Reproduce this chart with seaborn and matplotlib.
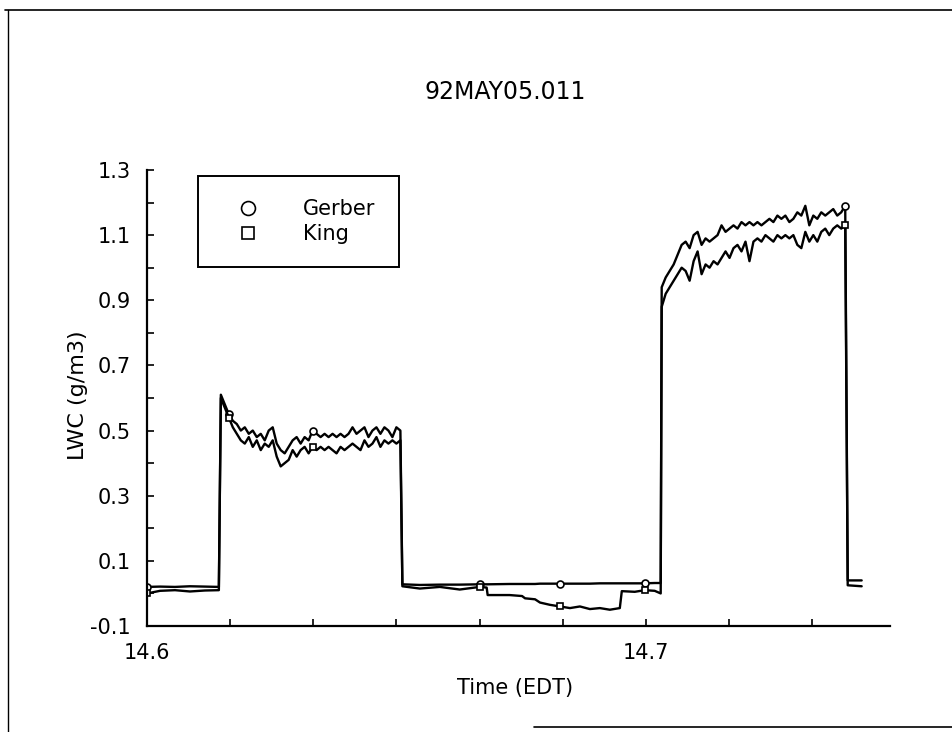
import numpy as np
import pandas as pd
import seaborn as sns
import matplotlib.pyplot as plt
from matplotlib.lines import Line2D
from matplotlib.ticker import MultipleLocator

# Time in decimal hours (EDT)
time_h = [14.6000, 14.6026, 14.6056, 14.6086, 14.6116, 14.6144,
          # first cloud pass
          14.6148, 14.6156, 14.6164, 14.6172, 14.6180, 14.6188, 14.6196, 14.6204, 14.6212, 14.6220,
          14.6228, 14.6236, 14.6244, 14.6252, 14.6260, 14.6268, 14.6276, 14.6284, 14.6292, 14.6300,
          14.6308, 14.6316, 14.6324, 14.6332, 14.6340, 14.6348, 14.6356, 14.6364, 14.6372, 14.6380,
          14.6388, 14.6396, 14.6404, 14.6412, 14.6420, 14.6428, 14.6436, 14.6444, 14.6452, 14.6460,
          14.6468, 14.6476, 14.6484, 14.6492, 14.6500, 14.6508,
          # clear air
          14.6512, 14.6547, 14.6587, 14.6627, 14.6667, 14.6681, 14.6683, 14.6727, 14.6752, 14.6758,
          14.6778, 14.6788, 14.6808, 14.6828, 14.6848, 14.6868, 14.6888, 14.6908, 14.6928, 14.6948,
          14.6952, 14.6978, 14.6998, 14.7018, 14.7030,
          # second cloud pass
          14.7032, 14.7040, 14.7048, 14.7056, 14.7064, 14.7072, 14.7080, 14.7088, 14.7096, 14.7104,
          14.7112, 14.7120, 14.7128, 14.7136, 14.7144, 14.7152, 14.7160, 14.7168, 14.7176, 14.7184,
          14.7192, 14.7200, 14.7208, 14.7216, 14.7224, 14.7232, 14.7240, 14.7248, 14.7256, 14.7264,
          14.7272, 14.7280, 14.7288, 14.7296, 14.7304, 14.7312, 14.7320, 14.7328, 14.7336, 14.7344,
          14.7352, 14.7360, 14.7368, 14.7376, 14.7384, 14.7392, 14.7400,
          14.7405, 14.7433]

gerber = [0.020, 0.021, 0.020, 0.022, 0.021, 0.020,
          0.61, 0.58, 0.55, 0.53, 0.52, 0.50, 0.51, 0.49, 0.50, 0.48,
          0.49, 0.47, 0.50, 0.51, 0.46, 0.44, 0.43, 0.45, 0.47, 0.48,
          0.46, 0.48, 0.47, 0.50, 0.49, 0.48, 0.49, 0.48, 0.49, 0.48,
          0.49, 0.48, 0.49, 0.51, 0.49, 0.50, 0.51, 0.48, 0.50, 0.51,
          0.49, 0.51, 0.50, 0.48, 0.51, 0.50,
          0.028, 0.026, 0.027, 0.027, 0.028, 0.028, 0.028, 0.029, 0.029, 0.029,
          0.029, 0.030, 0.030, 0.030, 0.030, 0.030, 0.030, 0.031, 0.031, 0.031,
          0.031, 0.031, 0.031, 0.032, 0.032,
          0.94, 0.97, 0.99, 1.01, 1.04, 1.07, 1.08, 1.06, 1.10, 1.11,
          1.07, 1.09, 1.08, 1.09, 1.10, 1.13, 1.11, 1.12, 1.13, 1.12,
          1.14, 1.13, 1.14, 1.13, 1.14, 1.13, 1.14, 1.15, 1.14, 1.16,
          1.15, 1.16, 1.14, 1.15, 1.17, 1.16, 1.19, 1.13, 1.16, 1.15,
          1.17, 1.16, 1.17, 1.18, 1.16, 1.17, 1.19,
          0.040, 0.040]

king = [0.000, 0.008, 0.010, 0.006, 0.009, 0.010,
        0.60, 0.57, 0.54, 0.51, 0.49, 0.47, 0.46, 0.48, 0.45, 0.47,
        0.44, 0.46, 0.45, 0.47, 0.42, 0.39, 0.40, 0.41, 0.44, 0.42,
        0.44, 0.45, 0.43, 0.45, 0.44, 0.45, 0.44, 0.45, 0.44, 0.43,
        0.45, 0.44, 0.45, 0.46, 0.45, 0.44, 0.47, 0.45, 0.46, 0.48,
        0.45, 0.47, 0.46, 0.47, 0.46, 0.47,
        0.022, 0.015, 0.020, 0.012, 0.020, 0.018, -0.005, -0.005, -0.008, -0.015,
        -0.018, -0.028, -0.035, -0.040, -0.045, -0.040, -0.048, -0.045, -0.050, -0.045,
        0.007, 0.005, 0.010, 0.008, 0.000,
        0.88, 0.92, 0.94, 0.96, 0.98, 1.00, 0.99, 0.96, 1.02, 1.05,
        0.98, 1.01, 1.00, 1.02, 1.01, 1.03, 1.05, 1.03, 1.06, 1.07,
        1.05, 1.08, 1.02, 1.08, 1.09, 1.08, 1.10, 1.09, 1.08, 1.10,
        1.09, 1.10, 1.09, 1.10, 1.07, 1.06, 1.11, 1.08, 1.10, 1.08,
        1.11, 1.12, 1.10, 1.12, 1.13, 1.12, 1.13,
        0.025, 0.022]

# times where the instrument symbols show on the trace
mark_times = [14.6, 14.6167, 14.6333, 14.6667, 14.6833, 14.7, 14.74]

df = pd.DataFrame({'time': time_h, 'Gerber': gerber, 'King': king})
marks = [int(np.argmin(np.abs(df['time'] - t))) for t in mark_times]

sns.set_style("ticks")
plt.rcParams['font.family'] = ['DejaVu Sans']
plt.rcParams.update({'text.color': 'black', 'axes.labelcolor': 'black',
                     'xtick.color': 'black', 'ytick.color': 'black'})

fig, ax = plt.subplots(figsize=(9.53, 7.32), dpi=100)
fig.subplots_adjust(left=0.1543, right=0.934, bottom=0.1448, top=0.7678)

sns.lineplot(data=df, x='time', y='Gerber', estimator=None, color='black', lw=1.7,
             marker='o', markevery=marks, markersize=5, markerfacecolor='white',
             markeredgecolor='black', markeredgewidth=1.2, ax=ax)
sns.lineplot(data=df, x='time', y='King', estimator=None, color='black', lw=1.7,
             marker='s', markevery=marks, markersize=5, markerfacecolor='white',
             markeredgecolor='black', markeredgewidth=1.2, ax=ax)

ax.set_xlim(14.6, 14.749)
ax.set_ylim(-0.1, 1.3)
ax.set_xticks([14.6, 14.7])
ax.set_xticklabels(['14.6', '14.7'])
ax.xaxis.set_minor_locator(MultipleLocator(1 / 60))
yt = np.arange(-0.1, 1.31, 0.2)
ax.set_yticks(yt)
ax.set_yticklabels([f'{v:.1f}' for v in yt])
ax.yaxis.set_minor_locator(MultipleLocator(0.2))
ax.tick_params(which='both', direction='in', length=5, width=1.2, color='black',
               labelsize=15, pad=12, labelcolor='black')

sns.despine(ax=ax)
for s in ['left', 'bottom']:
    ax.spines[s].set_linewidth(1.6)
    ax.spines[s].set_color('black')

ax.set_xlabel('Time (EDT)', fontsize=15, color='black')
ax.xaxis.set_label_coords(0.495, -0.115)
ax.set_ylabel('LWC (g/m3)', fontsize=16, color='black')
ax.yaxis.set_label_coords(-0.08, 0.507)

fig.text(0.530, 1 - 92 / 732, '92MAY05.011', ha='center', va='center', fontsize=17, color='black')

handles = [Line2D([], [], ls='none', marker='o', ms=10, mfc='none', mec='black', mew=1.2, label='Gerber'),
           Line2D([], [], ls='none', marker='s', ms=9, mfc='none', mec='black', mew=1.2, label='King')]
leg = ax.legend(handles=handles, loc='upper left', bbox_to_anchor=(0.0686, 0.987),
                borderaxespad=0, frameon=True, fancybox=False, edgecolor='black',
                framealpha=1, fontsize=15, borderpad=1.1, handlelength=2.6,
                handletextpad=1.35, labelspacing=0.25)
leg.get_frame().set_linewidth(1.4)
for txt in leg.get_texts():
    txt.set_color('black')

# edges of the scanned page
fig.add_artist(Line2D([0.008, 0.008], [0.0, 0.986], transform=fig.transFigure, color='black', lw=1))
fig.add_artist(Line2D([0.005, 1.0], [0.986, 0.986], transform=fig.transFigure, color='black', lw=1.2))
fig.add_artist(Line2D([0.56, 1.0], [0.007, 0.007], transform=fig.transFigure, color='black', lw=1.2))

fig.savefig('out.png', dpi=100)
